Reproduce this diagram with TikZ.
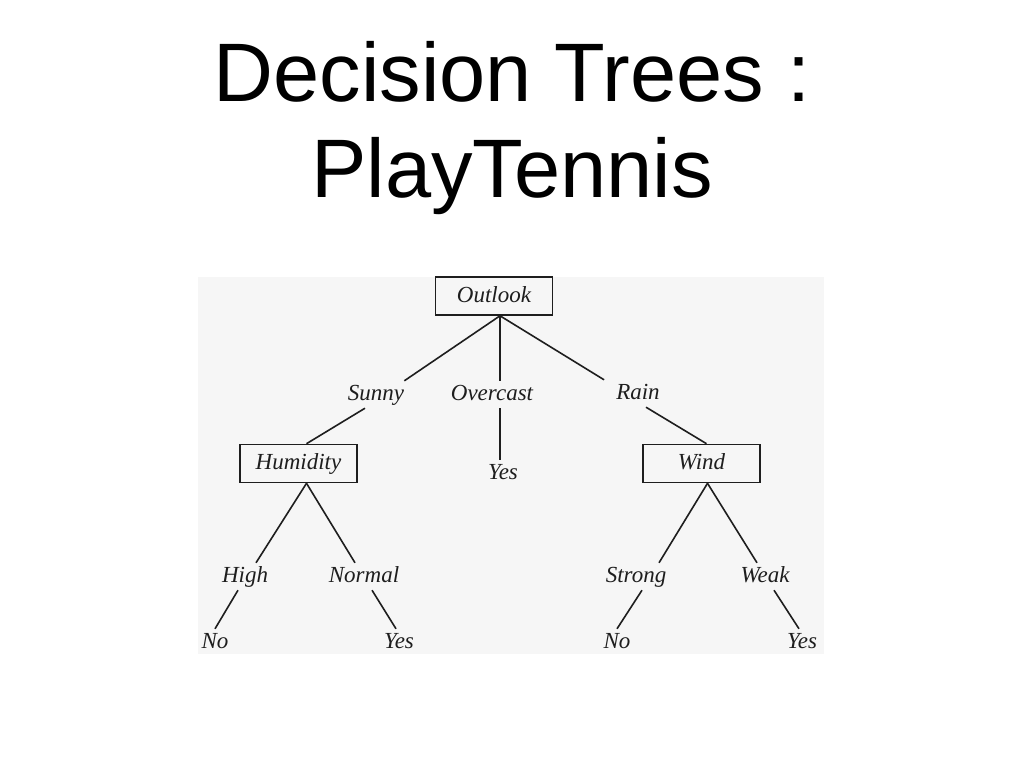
\documentclass[tikz,border=0pt]{standalone}
\usepackage{fontspec}
\setmainfont{Liberation Serif}
\newfontfamily\titlefont{Liberation Sans}
\definecolor{panelbg}{RGB}{246,246,246}
\definecolor{ink}{RGB}{30,30,30}
\begin{document}
\begin{tikzpicture}[x=1pt,y=-1pt,
  title/.style={font=\titlefont\fontsize{83}{96}\selectfont, anchor=base, inner sep=0},
  lbl/.style={font=\itshape\fontsize{23}{26}\selectfont, text=ink, anchor=base, inner xsep=0, inner ysep=3pt, text height=16pt, text depth=5pt},
  tbox/.style={draw=ink, line width=1.6pt, minimum width=117pt, minimum height=38pt, inner sep=0, text height=16pt, text depth=4pt, font=\itshape\fontsize{23}{26}\selectfont, text=ink},
  edge/.style={draw=ink, line width=1.6pt}]
\useasboundingbox (0,0) rectangle (1024,768);
\fill[white] (0,0) rectangle (1024,768);
% title
\node[title] (t1) at (512,101) {Decision Trees :};
\node[title] (t2) at (512,197) {PlayTennis};
% panel
\fill[panelbg] (198,277) rectangle (824,654);
% boxes
\node[tbox] (outlook) at (494,296) {Outlook};
\node[tbox] (hum) at (298.5,463.5) {Humidity};
\node[tbox] (wind) at (701.5,463.5) {Wind};
% labels
\node[lbl] (sunny) at (376,400) {Sunny};
\node[lbl] (overcast) at (492,400) {Overcast};
\node[lbl] (rain) at (638,399) {Rain};
\node[lbl] (yesA) at (503,479) {Yes};
\node[lbl] (high) at (245,582) {High};
\node[lbl] (normal) at (364,582) {Normal};
\node[lbl] (strong) at (636,582) {Strong};
\node[lbl] (weak) at (765,582) {Weak};
\node[lbl] (noA) at (215,648) {No};
\node[lbl] (yesB) at (399,648) {Yes};
\node[lbl] (noB) at (617,648) {No};
\node[lbl] (yesC) at (802,648) {Yes};
% anchor points on boxes
\coordinate (ol) at ([xshift=6pt]outlook.south);
\coordinate (hn) at ([xshift=8pt]hum.north);
\coordinate (hs) at ([xshift=8pt]hum.south);
\coordinate (wn) at ([xshift=5pt]wind.north);
\coordinate (ws) at ([xshift=6pt]wind.south);
% connectors
\draw[edge] (ol) -- (sunny.north east);
\draw[edge] (ol) -- (ol |- overcast.north);
\draw[edge] (ol) -- ([xshift=-12pt]rain.north west);
\draw[edge] ([xshift=-11pt]sunny.south) -- (hn);
\draw[edge] (ol |- overcast.south) -- (ol |- yesA.north);
\draw[edge] ([xshift=8pt]rain.south) -- (wn);
\draw[edge] (hs) -- ([xshift=11pt]high.north);
\draw[edge] (hs) -- ([xshift=-9pt]normal.north);
\draw[edge] ([xshift=-7pt]high.south) -- (noA.north);
\draw[edge] ([xshift=8pt]normal.south) -- ([xshift=-3pt]yesB.north);
\draw[edge] (ws) -- ([xshift=23pt]strong.north);
\draw[edge] (ws) -- ([xshift=-8pt]weak.north);
\draw[edge] ([xshift=6pt]strong.south) -- (noB.north);
\draw[edge] ([xshift=9pt]weak.south) -- ([xshift=-3pt]yesC.north);
\end{tikzpicture}
\end{document}
